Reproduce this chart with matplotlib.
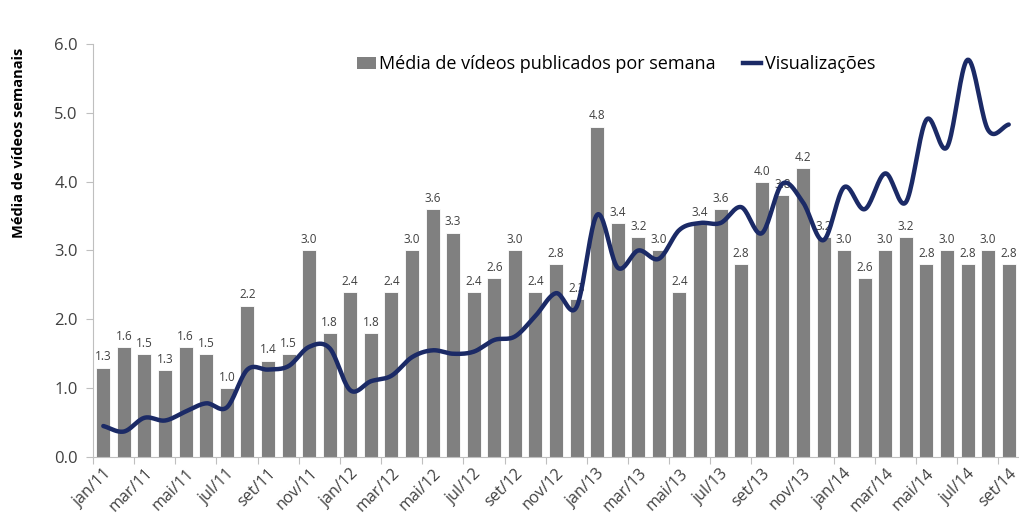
import numpy as np
import matplotlib
matplotlib.use("Agg")
import matplotlib.pyplot as plt
from matplotlib.lines import Line2D
from matplotlib.patches import Patch

plt.rcParams['font.family'] = ['Open Sans', 'DejaVu Sans']

# months jan/11 .. set/14
month_names = ["jan", "fev", "mar", "abr", "mai", "jun",
               "jul", "ago", "set", "out", "nov", "dez"]
months = [f"{m}/{y}" for y in ["11", "12", "13", "14"] for m in month_names][:45]

videos = [1.3, 1.6, 1.5, 1.26, 1.6, 1.5, 1.0, 2.2, 1.4, 1.5, 3.0, 1.8,
          2.4, 1.8, 2.4, 3.0, 3.6, 3.26, 2.4, 2.6, 3.0, 2.4, 2.8, 2.3,
          4.8, 3.4, 3.2, 3.0, 2.4, 3.4, 3.6, 2.8, 4.0, 3.8, 4.2, 3.2,
          3.0, 2.6, 3.0, 3.2, 2.8, 3.0, 2.8, 3.0, 2.8]

views = [0.45, 0.37, 0.57, 0.53, 0.66, 0.78, 0.72, 1.27, 1.27, 1.32, 1.6, 1.58,
         0.97, 1.1, 1.18, 1.45, 1.55, 1.5, 1.53, 1.7, 1.75, 2.05, 2.38, 2.18,
         3.52, 2.75, 3.0, 2.88, 3.3, 3.4, 3.4, 3.63, 3.25, 3.97, 3.7, 3.15,
         3.92, 3.6, 4.12, 3.7, 4.9, 4.5, 5.77, 4.75, 4.83]


def smooth(x, y, n=20):
    # catmull-rom, like excel "smoothed line"
    x = np.asarray(x, float)
    y = np.asarray(y, float)
    px = np.concatenate([[2 * x[0] - x[1]], x, [2 * x[-1] - x[-2]]])
    py = np.concatenate([[2 * y[0] - y[1]], y, [2 * y[-1] - y[-2]]])
    xs, ys = [], []
    t = np.linspace(0, 1, n, endpoint=False)
    for i in range(1, len(px) - 2):
        for p, out in ((px, xs), (py, ys)):
            p0, p1, p2, p3 = p[i - 1], p[i], p[i + 1], p[i + 2]
            out.extend(0.5 * (2 * p1 + (-p0 + p2) * t
                              + (2 * p0 - 5 * p1 + 4 * p2 - p3) * t ** 2
                              + (-p0 + 3 * p1 - 3 * p2 + p3) * t ** 3))
    xs.append(x[-1])
    ys.append(y[-1])
    return np.array(xs), np.array(ys)


fig = plt.figure(figsize=(10.19, 5.23), dpi=100)
ax = fig.add_axes([0.0913, 0.1262, 0.9087, 0.7897])

x = np.arange(len(months))
bar_color = "#808080"
line_color = "#1B2A66"
text_color = "#404040"

ax.bar(x, videos, width=0.68, color=bar_color, edgecolor="white", linewidth=0.6, zorder=2)
for xi, v in zip(x, videos):
    ax.text(xi, v + 0.06, f"{v:.1f}", ha="center", va="bottom", fontsize=8.5,
            color=text_color, zorder=3)

sx, sy = smooth(x, views)
ax.plot(sx, sy, color=line_color, linewidth=3.2, solid_capstyle="round", zorder=4)

ax.set_xlim(-0.5, len(months) - 0.5)
ax.set_ylim(0, 6)
ax.set_yticks(np.arange(0, 6.1, 1.0))
ax.set_yticklabels([f"{v:.1f}" for v in np.arange(0, 6.1, 1.0)], fontsize=12, color=text_color)

ax.set_xticks(np.arange(-0.5, len(months), 2))
ax.set_xticklabels([])
ax.set_xticks(x[::2], minor=True)
ax.set_xticklabels(months[::2], minor=True, rotation=45, ha="right",
                   rotation_mode="anchor", fontsize=11.5, color=text_color)
ax.tick_params(axis="x", which="minor", length=0, pad=6)
ax.tick_params(axis="x", which="major", length=5, color="#BFBFBF", direction="out")
ax.tick_params(axis="y", length=5, color="#BFBFBF", direction="out", pad=6)

for s in ["top", "right"]:
    ax.spines[s].set_visible(False)
for s in ["left", "bottom"]:
    ax.spines[s].set_color("#BFBFBF")

ax.set_ylabel("Média de vídeos semanais", fontsize=10.5, fontweight="bold",
              color="black")
ax.yaxis.set_label_coords(-0.072, 0.76)

handles = [Patch(facecolor=bar_color, edgecolor="none"),
           Line2D([0], [0], color=line_color, linewidth=3.2)]
ax.legend(handles, ["Média de vídeos publicados por semana", "Visualizações"],
          loc="upper center", bbox_to_anchor=(0.565, 1.012), ncol=2, frameon=False,
          fontsize=13, handlelength=1.0, handletextpad=0.2, columnspacing=1.5)

fig.savefig("out.png", dpi=100)
